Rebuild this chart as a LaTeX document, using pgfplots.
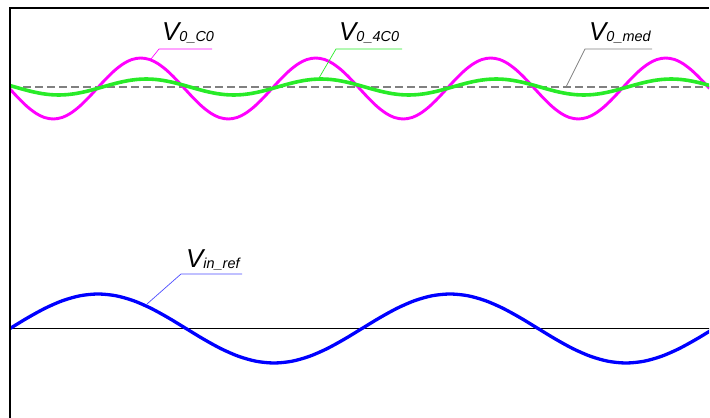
\documentclass[border=0pt]{standalone}
\usepackage{pgfplots}
\pgfplotsset{compat=1.18}
\usepackage{fontspec}
\setmainfont{Liberation Sans}
\definecolor{cmag}{RGB}{255,0,255}
\definecolor{cgreen}{RGB}{40,235,40}
\definecolor{cblue}{RGB}{0,0,255}
\definecolor{cgray}{RGB}{128,128,128}
\newcommand{\lab}[2]{{\fontsize{26}{26}\selectfont\itshape #1}\raisebox{-1bp}{\fontsize{14.5}{14.5}\selectfont\itshape #2}}
\begin{document}
\begin{tikzpicture}
\begin{axis}[at={(0,0)}, anchor=south west, scale only axis, width=699bp, height=410bp,
  xmin=11, xmax=710, ymin=0, ymax=410, hide axis, clip=true]
% zero line
\addplot[black, line width=1.7bp] coordinates {(0,89.5) (720,89.5)};
% dashed mean line
\addplot[cgray, line width=1.5bp, dash pattern=on 8bp off 4bp] coordinates {(0,331) (720,331)};
% V0_C0 magenta
\addplot[cmag, line width=2.9bp, smooth] coordinates {
(10.5,329.5) (19.25,320.08) (28,311.57) (36.75,304.83) (45.5,300.49) (54.25,299.0) (63,300.49) (71.75,304.83) (80.5,311.57) (89.25,320.08)
(98,329.5) (106.75,338.92) (115.5,347.43) (124.25,354.17) (133,358.51) (141.75,360.0) (150.5,358.51) (159.25,354.17) (168,347.43) (176.75,338.92)
(185.5,329.5) (194.25,320.08) (203,311.57) (211.75,304.83) (220.5,300.49) (229.25,299.0) (238,300.49) (246.75,304.83) (255.5,311.57) (264.25,320.08)
(273,329.5) (281.75,338.92) (290.5,347.43) (299.25,354.17) (308,358.51) (316.75,360.0) (325.5,358.51) (334.25,354.17) (343,347.43) (351.75,338.92)
(360.5,329.5) (369.25,320.08) (378,311.57) (386.75,304.83) (395.5,300.49) (404.25,299.0) (413,300.49) (421.75,304.83) (430.5,311.57) (439.25,320.08)
(448,329.5) (456.75,338.92) (465.5,347.43) (474.25,354.17) (483,358.51) (491.75,360.0) (500.5,358.51) (509.25,354.17) (518,347.43) (526.75,338.92)
(535.5,329.5) (544.25,320.08) (553,311.57) (561.75,304.83) (570.5,300.49) (579.25,299.0) (588,300.49) (596.75,304.83) (605.5,311.57) (614.25,320.08)
(623,329.5) (631.75,338.92) (640.5,347.43) (649.25,354.17) (658,358.51) (666.75,360.0) (675.5,358.51) (684.25,354.17) (693,347.43) (701.75,338.92)
(710.5,329.5)};
% V0_4C0 green
\addplot[cgreen, line width=3.6bp, smooth] coordinates {
(7.25,333.47)
(16,331) (24.75,328.53) (33.5,326.30) (42.25,324.53) (51,323.39) (59.75,323) (68.5,323.39) (77.25,324.53) (86,326.30) (94.75,328.53)
(103.5,331) (112.25,333.47) (121,335.70) (129.75,337.47) (138.5,338.61) (147.25,339) (156,338.61) (164.75,337.47) (173.5,335.70) (182.25,333.47)
(191,331) (199.75,328.53) (208.5,326.30) (217.25,324.53) (226,323.39) (234.75,323) (243.5,323.39) (252.25,324.53) (261,326.30) (269.75,328.53)
(278.5,331) (287.25,333.47) (296,335.70) (304.75,337.47) (313.5,338.61) (322.25,339) (331,338.61) (339.75,337.47) (348.5,335.70) (357.25,333.47)
(366,331) (374.75,328.53) (383.5,326.30) (392.25,324.53) (401,323.39) (409.75,323) (418.5,323.39) (427.25,324.53) (436,326.30) (444.75,328.53)
(453.5,331) (462.25,333.47) (471,335.70) (479.75,337.47) (488.5,338.61) (497.25,339) (506,338.61) (514.75,337.47) (523.5,335.70) (532.25,333.47)
(541,331) (549.75,328.53) (558.5,326.30) (567.25,324.53) (576,323.39) (584.75,323) (593.5,323.39) (602.25,324.53) (611,326.30) (619.75,328.53)
(628.5,331) (637.25,333.47) (646,335.70) (654.75,337.47) (663.5,338.61) (672.25,339) (681,338.61) (689.75,337.47) (698.5,335.70) (707.25,333.47)
(716,331)};
% Vin_ref blue
\addplot[cblue, line width=3.3bp, smooth] coordinates {
(11,89.5) (28.6,100.16) (46.2,109.78) (63.8,117.41) (81.4,122.31) (99,124.0) (116.6,122.31) (134.2,117.41) (151.8,109.78) (169.4,100.16)
(187,89.5) (204.6,78.84) (222.2,69.22) (239.8,61.59) (257.4,56.69) (275,55.0) (292.6,56.69) (310.2,61.59) (327.8,69.22) (345.4,78.84)
(363,89.5) (380.6,100.16) (398.2,109.78) (415.8,117.41) (433.4,122.31) (451,124.0) (468.6,122.31) (486.2,117.41) (503.8,109.78) (521.4,100.16)
(539,89.5) (556.6,78.84) (574.2,69.22) (591.8,61.59) (609.4,56.69) (627,55.0) (644.6,56.69) (662.2,61.59) (679.8,69.22) (697.4,78.84)
(715,89.5)};
% leader lines
\addplot[cmag, line width=0.7bp] coordinates {(152,359) (160,369) (213,369)};
\addplot[cgreen, line width=0.7bp] coordinates {(320,340) (337,369) (403,369)};
\addplot[cgray, line width=0.7bp] coordinates {(567,331) (586,369) (653,369)};
\addplot[cblue!70, line width=0.7bp] coordinates {(148,114) (182,144) (243,144)};
% labels
\node[anchor=base west, inner sep=0pt] at (axis cs:163,377) {\lab{V}{0\_C0}};
\node[anchor=base west, inner sep=0pt] at (axis cs:340,377) {\lab{V}{0\_4C0}};
\node[anchor=base west, inner sep=0pt] at (axis cs:590,377) {\lab{V}{0\_med}};
\node[anchor=base west, inner sep=0pt] at (axis cs:187,150) {\lab{V}{in\_ref}};
\end{axis}
\draw[black, line width=1.8bp] (0,0) -- (0,410bp) -- (699bp,410bp);
\pgfresetboundingbox
\path (-10bp,0) rectangle (700bp,418bp);
\end{tikzpicture}
\end{document}
